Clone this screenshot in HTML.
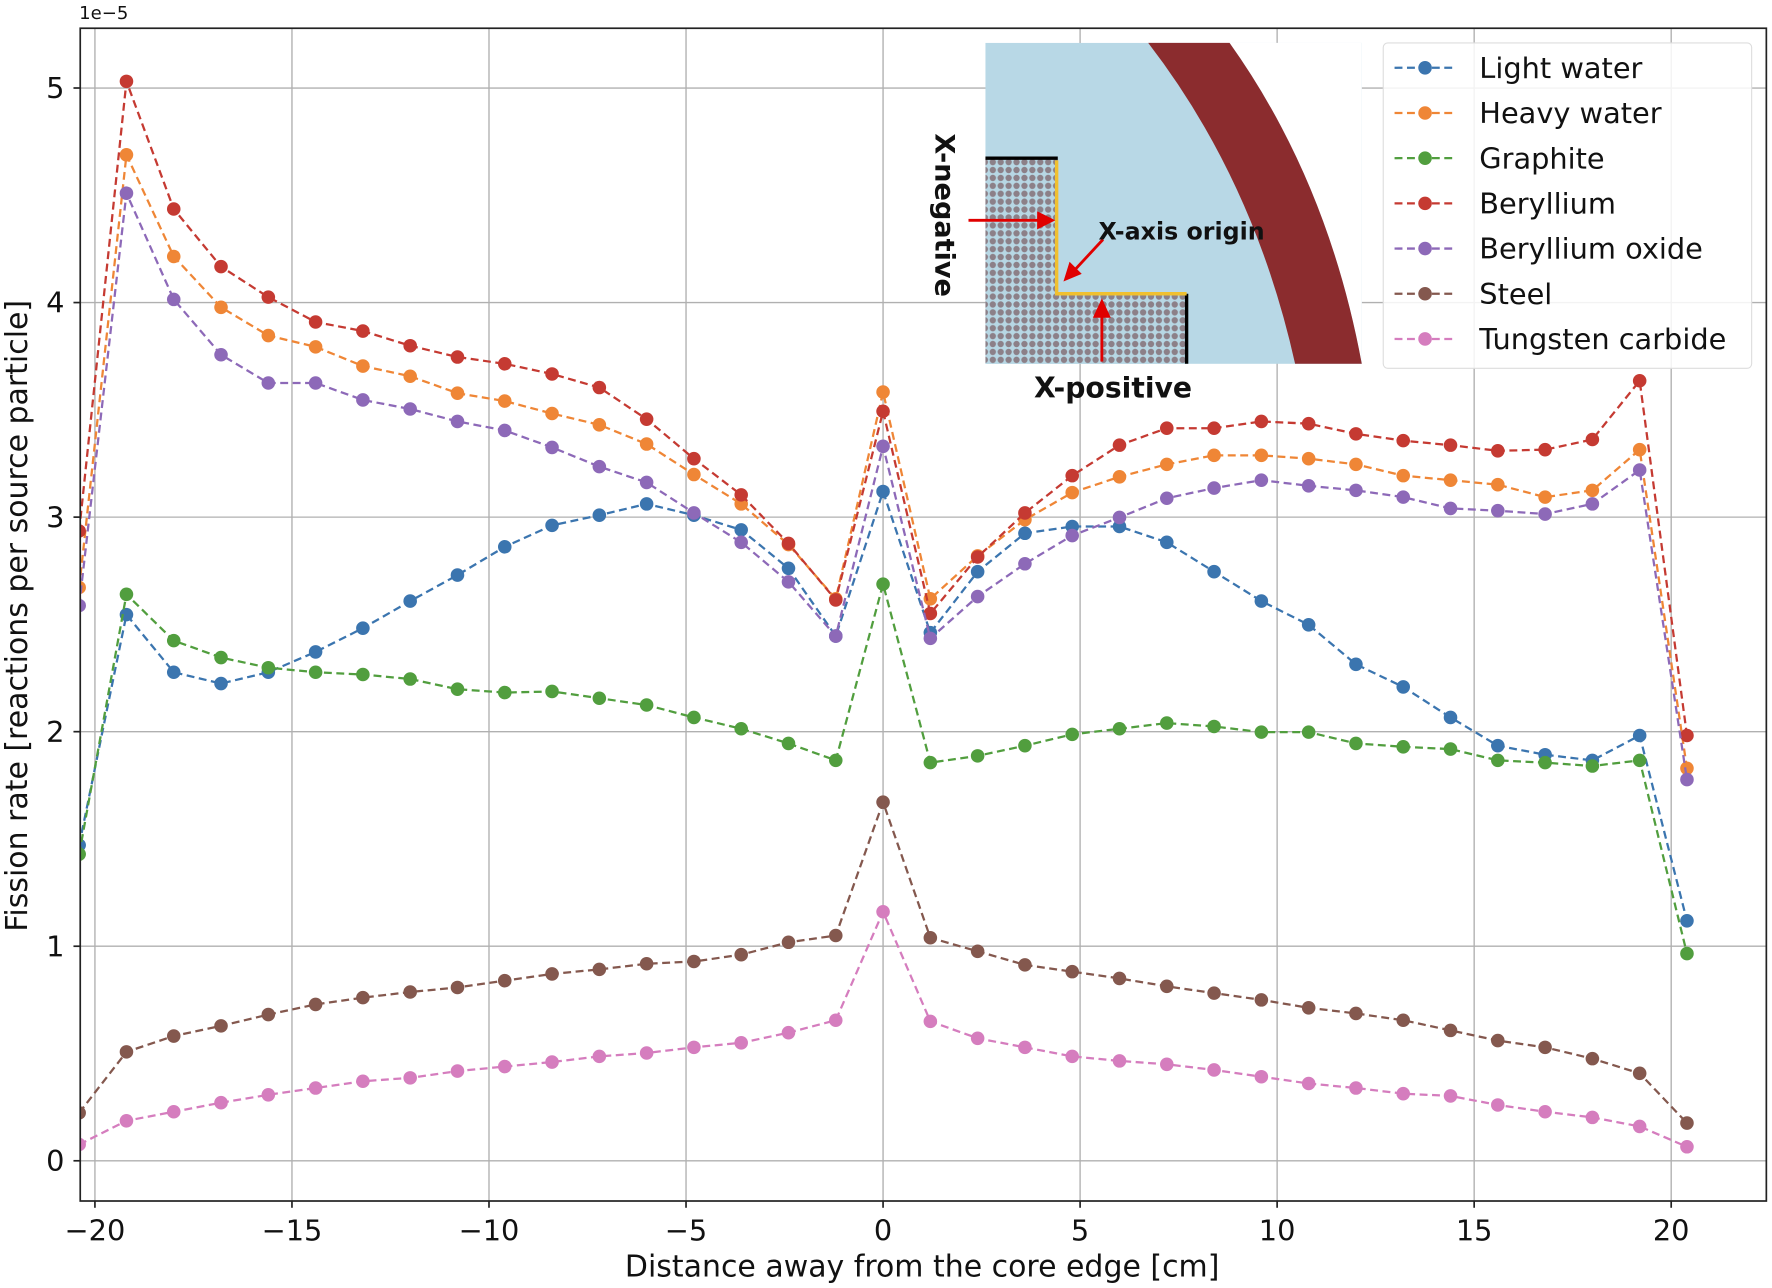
<!DOCTYPE html>
<html><head><meta charset="utf-8"><style>
html,body{margin:0;padding:0;background:#fff}
svg{display:block}
text{font-family:"DejaVu Sans","Liberation Sans",sans-serif;fill:#111}
</style></head><body>
<svg id="s" width="1772" height="1288" viewBox="0 0 1568 1140" preserveAspectRatio="none" xmlns="http://www.w3.org/2000/svg">
<defs>
<clipPath id="ax"><rect x="71" y="25" width="1492" height="1038"/></clipPath>
<pattern id="dots" x="0" y="0" width="7" height="7" patternUnits="userSpaceOnUse">
<rect width="7" height="7" fill="#b7d7e4"/><circle cx="3.5" cy="3.5" r="2.8" fill="#8c8088"/></pattern>
</defs>
<rect width="1568" height="1140" fill="#fff"/>
<g id="grid" stroke="#b0b0b0" stroke-width="1.2"></g>
<g clip-path="url(#ax)" id="series"></g>
<g>
<rect x="872" y="38" width="333" height="284" fill="#b8d8e6"/>
<path d="M1088,38 L1205,38 L1205,322 Q1175,160 1088,38Z" fill="#fff"/>
<path d="M1016,38 L1088,38 Q1175,160 1205,322 L1146,322 Q1110,160 1016,38Z" fill="#8b2c2e"/>
<path d="M872,140 L936,140 L936,260 L1050,260 L1050,322 L872,322Z" fill="url(#dots)"/>
<path d="M872,140 L936,140" stroke="#000" stroke-width="3"/>
<path d="M1050,260 L1050,322" stroke="#000" stroke-width="3"/>
<path d="M935,142 L935,260 L1050,260" stroke="#f0c030" stroke-width="3" fill="none"/>
<g stroke="#e00000" stroke-width="2.5" fill="#e00000">
<line x1="857" y1="195" x2="922" y2="195"/><polygon points="931,195 919,189 919,201"/>
<line x1="976" y1="212" x2="950" y2="240"/><polygon points="943,247 947,234 955,242"/>
<line x1="975" y1="320" x2="975" y2="276"/><polygon points="975,267 969,280 981,280"/>
</g>
<text x="0" y="0" font-size="24" font-weight="bold" transform="translate(828,118) rotate(90)">X-negative</text>
<text x="972" y="212" font-size="21" font-weight="bold">X-axis origin</text>
<text x="915" y="352" font-size="25" font-weight="bold">X-positive</text>
</g>
<g>
<rect x="1224" y="38" width="326" height="288" rx="4" fill="#fff" fill-opacity="0.85" stroke="#ddd" stroke-width="1"/>
<g id="leg"></g>
</g>
<rect x="71" y="25" width="1492" height="1038" fill="none" stroke="#222" stroke-width="1.5"/>
<g id="ticks"></g>
<text x="70" y="17" font-size="16">1e−5</text>
<text x="816" y="1130" font-size="26.5" text-anchor="middle">Distance away from the core edge [cm]</text>
<text transform="translate(24,545) rotate(-90)" font-size="26.5" text-anchor="middle">Fission rate [reactions per source particle]</text>
</svg>
<script>
var NS="http://www.w3.org/2000/svg";
function el(p,t,a,txt){var e=document.createElementNS(NS,t);for(var k in a)e.setAttribute(k,a[k]);if(txt!=null)e.textContent=txt;p.appendChild(e);return e;}
var X=function(v){return 781.4+34.87*v}, Y=function(v){return 1027.4-189.9*v};
var g=document.getElementById('grid'),tk=document.getElementById('ticks');
for(var v=-20;v<=20;v+=5){var x=X(v);el(g,'line',{x1:x,x2:x,y1:25,y2:1063});el(tk,'line',{x1:x,x2:x,y1:1063,y2:1069,stroke:'#222','stroke-width':1.5});
el(tk,'text',{x:x,y:1098,'font-size':25.5,'text-anchor':'middle'},(v<0?'−':'')+Math.abs(v));}
for(var v=0;v<=5;v++){var y=Y(v);el(g,'line',{x1:71,x2:1563,y1:y,y2:y});el(tk,'line',{x1:65,x2:71,y1:y,y2:y,stroke:'#222','stroke-width':1.5});
el(tk,'text',{x:57,y:y+9,'font-size':25.5,'text-anchor':'end'},''+v);}
var S=[
['Light water','#3b75af',[748,544,595,605,595,577,556,532,509,484,465,456,446,456,469,503,563,435,560,506,472,466,466,480,506,532,553,588,608,635,660,668,673,651,815]],
['Heavy water','#ef8636',[520,137,227,272,297,307,324,333,348,355,366,376,393,420,446,482,530,347,530,492,460,436,422,411,403,403,406,411,421,425,429,440,434,398,680]],
['Graphite','#519e3e',[756,526,567,582,591,595,597,601,610,613,612,618,624,635,645,658,673,517,675,669,660,650,645,640,643,648,648,658,661,663,673,675,678,673,844]],
['Beryllium','#c53a32',[470,72,185,236,263,285,293,306,316,322,331,343,371,406,438,481,531,364,543,493,454,421,394,379,379,373,375,384,390,394,399,398,389,337,651]],
['Beryllium oxide','#8d69b8',[536,171,265,314,339,339,354,362,373,381,396,413,427,454,480,515,563,395,565,528,499,474,458,441,432,425,430,434,440,450,452,455,446,416,690]],
['Steel','#84584e',[985,931,917,908,898,889,883,878,874,868,862,858,853,851,845,834,828,710,830,842,854,860,866,873,879,885,892,897,903,912,921,927,937,950,994]],
['Tungsten carbide','#d57dbe',[1013,992,984,976,969,963,957,954,948,944,940,935,932,927,923,914,903,807,904,919,927,935,939,942,947,953,959,963,968,970,978,984,989,997,1015]]];
var sg=document.getElementById('series'),lg=document.getElementById('leg');
S.forEach(function(s,i){var pts=s[2].map(function(y,j){return [X(-20.4+1.2*j),y]});
el(sg,'polyline',{points:pts.map(function(p){return p.join(',')}).join(' '),fill:'none',stroke:s[1],'stroke-width':2,'stroke-dasharray':'7,4'});
pts.forEach(function(p){el(sg,'circle',{cx:p[0],cy:p[1],r:6,fill:s[1]})});
var ly=60+i*40;el(lg,'line',{x1:1234,x2:1288,y1:ly,y2:ly,stroke:s[1],'stroke-width':2,'stroke-dasharray':'7,4'});
el(lg,'circle',{cx:1261,cy:ly,r:6,fill:s[1]});el(lg,'text',{x:1309,y:ly+9,'font-size':25.5},s[0]);});
</script>
</body></html>
